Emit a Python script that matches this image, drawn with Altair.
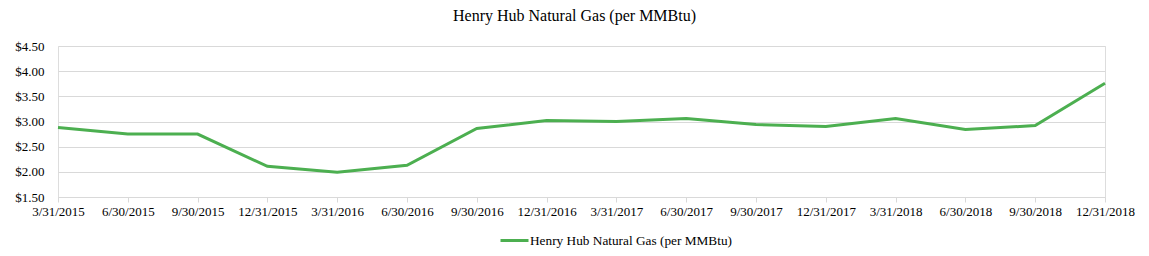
import altair as alt
import pandas as pd

dates = ["3/31/2015", "6/30/2015", "9/30/2015", "12/31/2015",
         "3/31/2016", "6/30/2016", "9/30/2016", "12/31/2016",
         "3/31/2017", "6/30/2017", "9/30/2017", "12/31/2017",
         "3/31/2018", "6/30/2018", "9/30/2018", "12/31/2018"]
prices = [2.88, 2.75, 2.75, 2.11,
          1.99, 2.13, 2.86, 3.02,
          3.00, 3.06, 2.94, 2.90,
          3.06, 2.84, 2.92, 3.76]
series_name = "Henry Hub Natural Gas (per MMBtu)"
y_ticks = [1.5, 2.0, 2.5, 3.0, 3.5, 4.0, 4.5]

df = pd.DataFrame({"date": dates, "price": prices, "series": [series_name] * len(dates)})

FONT = "Liberation Serif"
GREEN = "#4CAF50"
GRID = "#D9D9D9"

chart = alt.Chart(df).mark_line(strokeWidth=3).encode(
    x=alt.X("date:N", sort=dates, title=None,
            scale=alt.Scale(type="point", padding=0),
            axis=alt.Axis(labelAngle=0, labelFont=FONT, labelFontSize=13, labelColor="#000000",
                          tickColor=GRID, tickSize=5, labelPadding=3,
                          domainColor=GRID, domainWidth=1, grid=False)),
    y=alt.Y("price:Q", title=None,
            scale=alt.Scale(domain=[1.5, 4.5], nice=False, zero=False),
            axis=alt.Axis(values=y_ticks, format="$.2f", labelFont=FONT, labelFontSize=13,
                          labelColor="#000000", ticks=False, domain=False, labelPadding=14,
                          gridColor=GRID, gridWidth=1)),
    color=alt.Color("series:N", scale=alt.Scale(domain=[series_name], range=[GREEN]),
                    legend=alt.Legend(title=None, orient="none", legendX=441, legendY=179,
                                      symbolType="stroke", symbolSize=784, symbolStrokeWidth=3,
                                      labelFont=FONT, labelFontSize=13.3, labelColor="#000000",
                                      labelOffset=0, labelLimit=0)),
).properties(
    width=1047, height=151,
    title=alt.TitleParams(series_name, font=FONT, fontSize=16, fontWeight="normal",
                          color="#000000", anchor="middle", baseline="alphabetic", offset=3, dx=-7),
    autosize=alt.AutoSizeParams(type="none"),
    padding={"left": 58, "top": 46, "right": 44, "bottom": 59},
).configure_view(stroke=None).configure(background="white")

chart.save("out.html", embed_options={"renderer": "svg", "actions": False})
